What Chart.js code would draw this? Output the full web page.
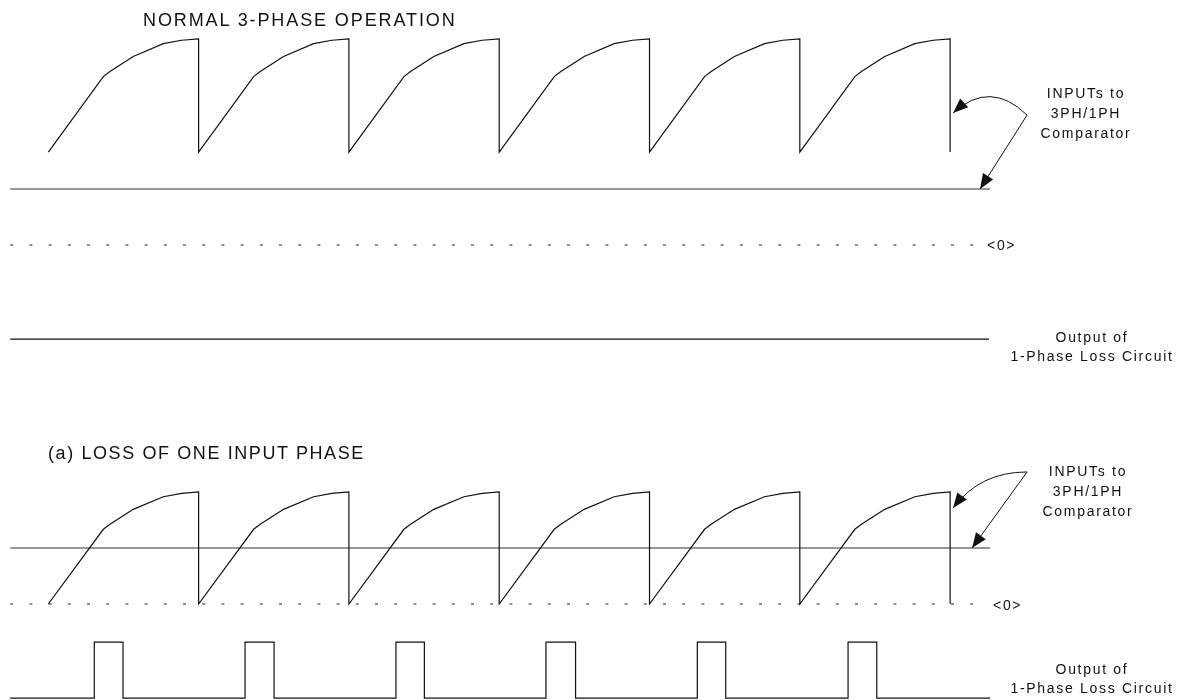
<!DOCTYPE html>
<html>
<head>
<meta charset="utf-8">
<script src="https://cdn.jsdelivr.net/npm/chart.js@4.4.1/dist/chart.umd.min.js"></script>
<style>
  body { margin: 0; background: #fff; }
  #page { position: relative; width: 1187px; height: 700px; overflow: hidden; }
  canvas { position: absolute; left: 0; }
  #chart-normal { top: 0; }
  #chart-loss { top: 400px; }
  .lbl { position: absolute; font-family: 'Liberation Sans', Arial, sans-serif; color: #111; white-space: nowrap; }
  .title { font-size: 18px; letter-spacing: 1.9px; line-height: 20px; }
  .note { font-size: 14px; letter-spacing: 1.7px; text-align: center; }
</style>
</head>
<body>
<div id="page">
  <canvas id="chart-normal" width="1187" height="400"></canvas>
  <canvas id="chart-loss" width="1187" height="300"></canvas>

  <div class="lbl title" style="left:143px; top:10px;">NORMAL 3-PHASE OPERATION</div>
  <div class="lbl note" style="left:1025px; top:83px; width:122px; line-height:20px;">INPUTs to<br>3PH/1PH<br>Comparator</div>
  <div class="lbl note" style="left:987px; top:236px; line-height:18px;">&lt;0&gt;</div>
  <div class="lbl note" style="left:1010px; top:328px; width:164px; line-height:19px;">Output of<br>1-Phase Loss Circuit</div>

  <div class="lbl title" style="left:48px; top:443px; letter-spacing:1.6px;">(a) LOSS OF ONE INPUT PHASE</div>
  <div class="lbl note" style="left:1027px; top:461px; width:122px; line-height:20px;">INPUTs to<br>3PH/1PH<br>Comparator</div>
  <div class="lbl note" style="left:993px; top:596px; line-height:18px;">&lt;0&gt;</div>
  <div class="lbl note" style="left:1010px; top:660px; width:164px; line-height:19px;">Output of<br>1-Phase Loss Circuit</div>
</div>

<script>
// time in ramp periods, levels in volts (1 V ~ 11.2 px on screen)
const cycleStart = [0, 1, 2, 3, 4, 5];
const rampPhase  = [0, 0.366, 0.41, 0.565, 0.765, 0.887, 1.0];
const rampLevel  = [0, 0.667, 0.712, 0.845, 0.958, 0.988, 1.0];   // fraction of swing

const normalRamp = [8.3, 18.4];     // low, high
const lossRamp   = [0, 10];
const refLevel   = 5.0;             // comparator reference
const outLow     = -8.4;
const outHigh    = -3.4;

// 1-phase loss output pulses (loss case)
const pulseRise = [0.306, 1.309, 2.313, 3.311, 4.318, 5.321];
const pulseFall = [0.497, 1.502, 2.502, 3.508, 4.507, 5.512];

const traceStart = -0.2535;
const traceEnd   = 6.266;
const zeroEnd    = [6.17, 6.2];

const xRange = [-0.3214, 7.576];
const yRangeNormal = [-13.84, 21.875];
const yRangeLoss   = [-8.571, 18.214];

function sawtooth(lo, hi) {
  let pts = [];
  cycleStart.forEach(c => {
    rampPhase.forEach((p, i) => pts.push({ x: c + p, y: lo + rampLevel[i] * (hi - lo) }));
    pts.push({ x: c + 1, y: lo });
  });
  return pts;
}

function pulses() {
  let pts = [{ x: traceStart, y: outLow }];
  pulseRise.forEach((r, i) => {
    pts.push({ x: r, y: outLow }, { x: r, y: outHigh });
    pts.push({ x: pulseFall[i], y: outHigh }, { x: pulseFall[i], y: outLow });
  });
  pts.push({ x: traceEnd, y: outLow });
  return pts;
}

function flat(y, x1) {
  return [{ x: traceStart, y: y }, { x: x1, y: y }];
}

// curved + straight callout arrows, anchors in data units
const arrowPlugin = {
  id: 'callouts',
  afterDatasetsDraw(chart, args, opts) {
    const ctx = chart.ctx, xs = chart.scales.x, ys = chart.scales.y;
    const px = p => [xs.getPixelForValue(p[0]), ys.getPixelForValue(p[1])];
    ctx.save();
    ctx.strokeStyle = '#111';
    ctx.fillStyle = '#111';
    ctx.lineWidth = 1;
    (opts.arrows || []).forEach(a => {
      const s = px(a.from), e = px(a.to);
      let dir;
      ctx.beginPath();
      ctx.moveTo(s[0], s[1]);
      if (a.ctrl) {
        const c = px(a.ctrl);
        ctx.quadraticCurveTo(c[0], c[1], e[0], e[1]);
        dir = Math.atan2(e[1] - c[1], e[0] - c[0]);
      } else {
        ctx.lineTo(e[0], e[1]);
        dir = Math.atan2(e[1] - s[1], e[0] - s[0]);
      }
      ctx.stroke();
      // arrow head
      const L = 15, W = 6;
      ctx.beginPath();
      ctx.moveTo(e[0], e[1]);
      ctx.lineTo(e[0] - L * Math.cos(dir) + W * Math.sin(dir), e[1] - L * Math.sin(dir) - W * Math.cos(dir));
      ctx.lineTo(e[0] - L * Math.cos(dir) - W * Math.sin(dir), e[1] - L * Math.sin(dir) + W * Math.cos(dir));
      ctx.closePath();
      ctx.fill();
    });
    ctx.restore();
  }
};

function makeChart(id, ramp, outData, yRange, arrows, zEnd) {
  const line = { borderColor: '#111', borderWidth: 1.2, pointRadius: 0, showLine: true, fill: false, tension: 0 };
  return new Chart(document.getElementById(id).getContext('2d'), {
    type: 'scatter',
    data: {
      datasets: [
        Object.assign({ label: 'ramp', data: sawtooth(ramp[0], ramp[1]) }, line),
        Object.assign({ label: 'reference', data: flat(refLevel, traceEnd) }, line, { borderColor: '#333' }),
        Object.assign({ label: 'zero', data: flat(0, zEnd) }, line, { borderDash: [3, 16.2], borderColor: '#222' }),
        Object.assign({ label: 'output', data: outData }, line)
      ]
    },
    options: {
      responsive: false,
      animation: false,
      layout: { padding: 0 },
      plugins: { legend: { display: false }, tooltip: { enabled: false }, callouts: { arrows: arrows } },
      scales: {
        x: { type: 'linear', min: xRange[0], max: xRange[1], display: false },
        y: { type: 'linear', min: yRange[0], max: yRange[1], display: false }
      }
    },
    plugins: [arrowPlugin]
  });
}

makeChart('chart-normal', normalRamp, flat(outLow, traceEnd - 0.007), yRangeNormal, [
  { from: [6.512, 11.6], ctrl: [6.265, 14.8], to: [6.02, 11.79] },
  { from: [6.512, 11.6], to: [6.199, refLevel] }
], zeroEnd[0]);

makeChart('chart-loss', lossRamp, pulses(), yRangeLoss, [
  { from: [6.512, 11.79], ctrl: [6.198, 11.79], to: [6.02, 8.57] },
  { from: [6.512, 11.79], to: [6.146, refLevel] }
], zeroEnd[1]);
</script>
</body>
</html>
